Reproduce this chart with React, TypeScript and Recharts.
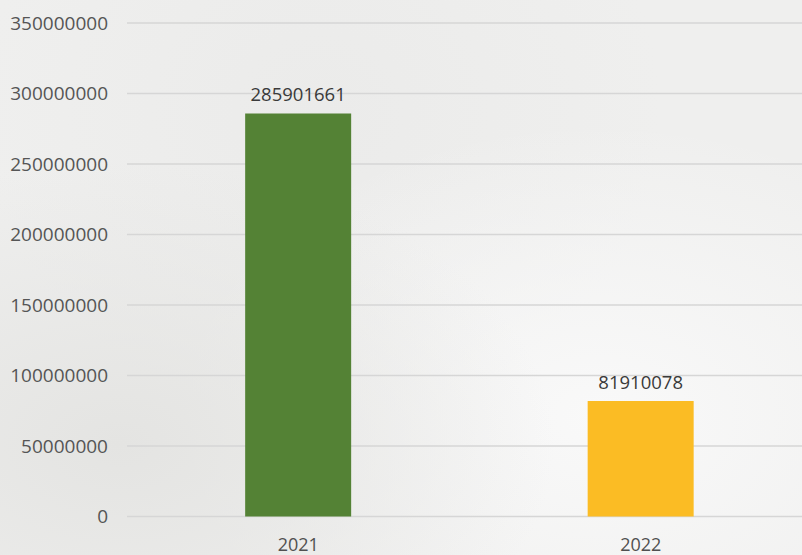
import { BarChart, Bar, XAxis, YAxis, CartesianGrid, LabelList, Cell } from 'recharts'

const years = ['2021', '2022']
const amounts = [285901661, 81910078]
const barColors = ['#548235', '#FBBC24']
const yTicks = [0, 50000000, 100000000, 150000000, 200000000, 250000000, 300000000, 350000000]

const data = years.map((year, i) => ({ year, amount: amounts[i] }))

const font = '"Open Sans", sans-serif'

export default function App() {
  return (
    <div
      style={{
        position: 'absolute',
        left: 0,
        top: 0,
        width: 802,
        height: 555,
        overflow: 'hidden',
        background:
          'radial-gradient(ellipse at 15% 80%, #e4e4e2 0%, rgba(228,228,226,0) 45%), radial-gradient(ellipse at 75% 75%, #f9f9f9 0%, rgba(249,249,249,0) 50%), radial-gradient(ellipse at 40% 20%, #ebebea 0%, rgba(235,235,234,0) 50%), #efefee',
      }}
    >
      <BarChart
        width={812}
        height={555}
        data={data}
        margin={{ top: 23, right: 0, left: 0, bottom: 0 }}
        barCategoryGap="34.5%"
      >
        <CartesianGrid vertical={false} stroke="#d6d6d6" strokeWidth={1.5} />
        <XAxis
          dataKey="year"
          height={38.5}
          axisLine={false}
          tickLine={false}
          tickSize={0}
          tickMargin={22}
          tick={{ fontSize: 18, fill: '#505050', fontFamily: font }}
        />
        <YAxis
          width={127}
          domain={[0, 350000000]}
          ticks={yTicks}
          axisLine={false}
          tickLine={false}
          tickSize={0}
          tickMargin={19}
          interval={0}
          tick={{ fontSize: 19, fill: '#555555', fontFamily: font }}
        />
        <Bar dataKey="amount" isAnimationActive={false}>
          {data.map((d, i) => (
            <Cell key={d.year} fill={barColors[i]} />
          ))}
          <LabelList
            dataKey="amount"
            position="top"
            offset={12}
            style={{ fontSize: 18.5, fill: '#3a3a3a', fontFamily: font }}
          />
        </Bar>
      </BarChart>
    </div>
  )
}
